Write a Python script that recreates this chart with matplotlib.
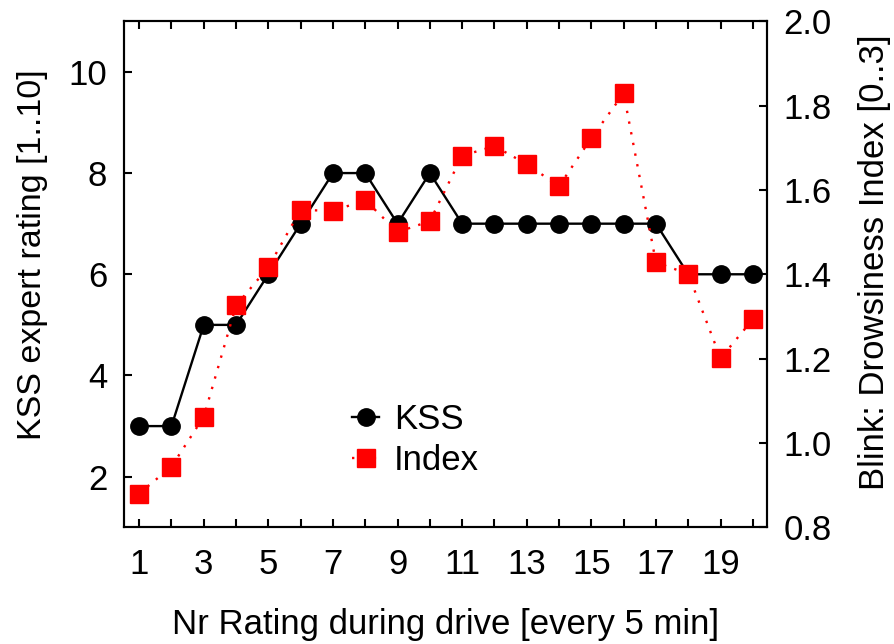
import matplotlib
matplotlib.use("Agg")
import matplotlib.pyplot as plt
from matplotlib.ticker import FormatStrFormatter

plt.rcParams['font.family'] = ['Liberation Sans', 'DejaVu Sans']

# data
rating_nr = list(range(1, 21))
kss = [3, 3, 5, 5, 6, 7, 8, 8, 7, 8, 7, 7, 7, 7, 7, 7, 7, 6, 6, 6]
index = [0.880, 0.944, 1.062, 1.326, 1.417, 1.553, 1.550, 1.576, 1.500, 1.526,
         1.681, 1.704, 1.661, 1.609, 1.723, 1.829, 1.428, 1.401, 1.201, 1.293]
x_ticklabels = [1, 3, 5, 7, 9, 11, 13, 15, 17, 19]

fig = plt.figure(figsize=(8.94, 6.44), dpi=100)
ax = fig.add_axes([0.1387, 0.1812, 0.7193, 0.7858])
ax2 = ax.twinx()

# KSS linie
l1, = ax.plot(rating_nr, kss, color='black', lw=1.7, marker='o', ms=12.5,
              label='KSS', zorder=3)
# index linie, teckovana
l2, = ax2.plot(rating_nr, index, color='red', lw=1.7, ls=(0, (1, 3.6)), marker='s',
               ms=13, mec='red', mfc='red', label='Index', zorder=3)

ax.set_xlim(0.53, 20.44)
ax.set_ylim(1, 11)
ax2.set_ylim(0.8, 2.0)

ax.set_xticks(rating_nr)
ax.set_xticklabels([str(v) if v in x_ticklabels else '' for v in rating_nr])
ax.set_yticks([2, 4, 6, 8, 10])
ax2.set_yticks([0.8, 1.0, 1.2, 1.4, 1.6, 1.8, 2.0])
ax2.yaxis.set_major_formatter(FormatStrFormatter('%.1f'))

ax.tick_params(axis='x', direction='in', top=True, length=6, width=1.5,
               labelsize=25, pad=15)
ax.tick_params(axis='y', direction='in', length=6, width=1.5, labelsize=25, pad=12)
ax2.tick_params(axis='y', direction='in', length=6, width=1.5, labelsize=25, pad=12)

for a in (ax, ax2):
    for s in a.spines.values():
        s.set_linewidth(1.5)

ax.set_xlabel('Nr Rating during drive [every 5 min]', fontsize=25, labelpad=19)
ax.set_ylabel('KSS expert rating [1..10]', fontsize=24.5, labelpad=15)
ax2.set_ylabel('Blink: Drowsiness Index [0..3]', fontsize=25, labelpad=19)
ax.yaxis.label.set_y(0.538)
ax2.yaxis.label.set_y(0.524)

ax.legend(handles=[l1, l2], loc='center left', bbox_to_anchor=(0.355, 0.172),
          frameon=False, fontsize=25, borderpad=0, borderaxespad=0,
          handlelength=0.78, handletextpad=0.42, labelspacing=0.22)

fig.savefig('out.png', dpi=100)
